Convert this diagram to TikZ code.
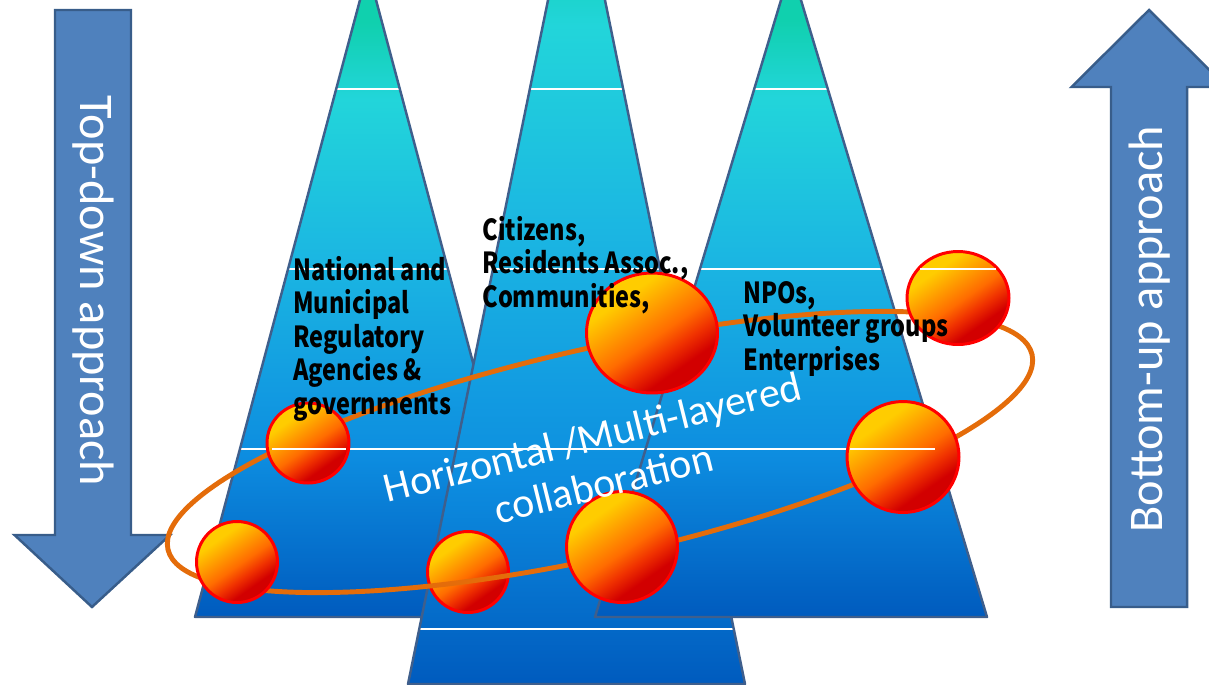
\documentclass[tikz,border=0pt]{standalone}
\usepackage{fontspec}
\newfontfamily\calibri{Carlito}
\newfontfamily\gothic{Noto Sans CJK JP}[FakeStretch=0.81]
\usetikzlibrary{shapes.geometric}

\definecolor{tiertop}{HTML}{10D0AE}
\definecolor{tiercyan}{HTML}{22D5DA}
\definecolor{tiermid}{HTML}{1BB6E2}
\definecolor{tierlow}{HTML}{0D8DE0}
\definecolor{tierbottom}{HTML}{005BBE}
\definecolor{tierrim}{HTML}{3F5F8C}
\definecolor{arrowfill}{HTML}{4F81BD}
\definecolor{arrowrim}{HTML}{385D8A}
\definecolor{orbitcolor}{HTML}{E46C0A}
\definecolor{ballyellow}{HTML}{FFCC00}
\definecolor{ballamber}{HTML}{FF9C00}
\definecolor{ballorange}{HTML}{FF6C00}
\definecolor{ballscarlet}{HTML}{F03200}
\definecolor{ballred}{HTML}{D20000}

\pgfdeclareverticalshading{tiershade}{100bp}{color(0bp)=(tierbottom); color(25bp)=(tierbottom); color(37.5bp)=(tierlow); color(52.5bp)=(tiermid); color(65bp)=(tiercyan); color(71bp)=(tiertop); color(100bp)=(tiertop)}
\pgfdeclarehorizontalshading{ballshade}{100bp}{color(0bp)=(ballyellow); color(32bp)=(ballyellow); color(42bp)=(ballamber); color(52bp)=(ballorange); color(60bp)=(ballscarlet); color(68bp)=(ballred); color(100bp)=(ballred)}

\begin{document}
\begin{tikzpicture}[
  x=0.02cm, y=-0.02cm,
  tier/.style={shade, shading=tiershade},
  rim/.style={draw=tierrim, line width=1.4pt, line join=round},
  band/.style={white, line width=0.6pt},
  updown/.style={fill=arrowfill, draw=arrowrim, line width=1.4pt, line join=miter},
  ball/.style={ellipse, shade, shading=ballshade, shading angle=-55, draw=red, line width=1.7pt, inner sep=0pt},
  agent/.style={font=\gothic\bfseries\fontsize{16.5pt}{19pt}\selectfont, align=left, inner sep=0pt},
  caption/.style={text=white, inner sep=0pt}
]
\useasboundingbox (0,0) rectangle (1209,684);
\clip (0,0) rectangle (1209,684);

% three pyramids, back to front
\coordinate (govtop) at (368,-30);
\coordinate (govleft) at (195,617);
\coordinate (govright) at (541,617);
\coordinate (citytop) at (576.5,-139);
\coordinate (cityleft) at (408,684);
\coordinate (cityright) at (745,684);
\coordinate (npotop) at (791,-33);
\coordinate (npoleft) at (595,617);
\coordinate (nporight) at (987,617);

\path[tier] (govtop) -- (govleft) -- (govright) -- cycle;
\begin{scope}
  \clip (govtop) -- (govleft) -- (govright) -- cycle;
  \foreach \y in {89,269,449,629} \draw[band] (0,\y) -- (1209,\y);
\end{scope}
\draw[rim] (govtop) -- (govleft) -- (govright) -- cycle;

\path[tier] (citytop) -- (cityleft) -- (cityright) -- cycle;
\begin{scope}
  \clip (citytop) -- (cityleft) -- (cityright) -- cycle;
  \foreach \y in {89,269,449,629} \draw[band] (0,\y) -- (1209,\y);
\end{scope}
\draw[rim] (citytop) -- (cityleft) -- (cityright) -- cycle;

\path[tier] (npotop) -- (npoleft) -- (nporight) -- cycle;
\begin{scope}
  \clip (npotop) -- (npoleft) -- (nporight) -- cycle;
  \foreach \y in {89,269,449,629} \draw[band] (0,\y) -- (1209,\y);
\end{scope}
\draw[rim] (npotop) -- (npoleft) -- (nporight) -- cycle;

% arrows
\draw[updown] (55,10) -- (131,10) -- (131,535) -- (170,535) -- (92,607) -- (14.5,535) -- (55,535) -- cycle;
\draw[updown] (1111,607) -- (1187,607) -- (1187,87) -- (1226.5,87) -- (1149,10) -- (1071.5,87) -- (1111,87) -- cycle;
\node[caption, font=\calibri\fontsize{27.5pt}{33pt}\selectfont, rotate=-90] (topdown) at (93,291) {Top-down approach};
\node[caption, font=\calibri\fontsize{27.5pt}{33pt}\selectfont, rotate=90] (bottomup) at (1150,329) {Bottom-up approach};

% orbit and actors
\node[ball, minimum width=1.62cm, minimum height=1.62cm] (b3) at (468,572) {};
\node[ellipse, draw=orbitcolor, line width=2.8pt, minimum width=17.72cm, minimum height=4.16cm, rotate=12.7] (orbit) at (600,452) {};
\node[ball, minimum width=1.64cm, minimum height=1.60cm] (b1) at (308,443) {};
\node[ball, minimum width=1.62cm, minimum height=1.62cm] (b2) at (237,562) {};
\node[ball, minimum width=2.22cm, minimum height=2.22cm] (b4) at (622,547) {};
\node[ball, minimum width=2.62cm, minimum height=2.40cm] (b5) at (652,333) {};
\node[ball, minimum width=2.04cm, minimum height=1.86cm] (b6) at (958,298) {};
\node[ball, minimum width=2.24cm, minimum height=2.22cm] (b7) at (903,457) {};
\draw[band] (272,449) -- (346,449);
\draw[band] (920,269) -- (996,269);
\draw[band] (850,449) -- (935,449);

\node[agent, anchor=base west] (gov) at (293,414) {National and\\Municipal\\Regulatory\\Agencies \&\\governments};
\node[agent, anchor=base west] (citizens) at (482,307) {Citizens,\\Residents Assoc.,\\Communities,};
\node[agent, anchor=base west] (npo) at (743,370) {NPOs,\\Volunteer groups\\Enterprises};

\node[caption, font=\calibri\fontsize{23.8pt}{27.2pt}\selectfont, align=center, rotate=14] (collab) at (598,460) {Horizontal /Multi-layered\\collaboration};
\end{tikzpicture}
\end{document}
